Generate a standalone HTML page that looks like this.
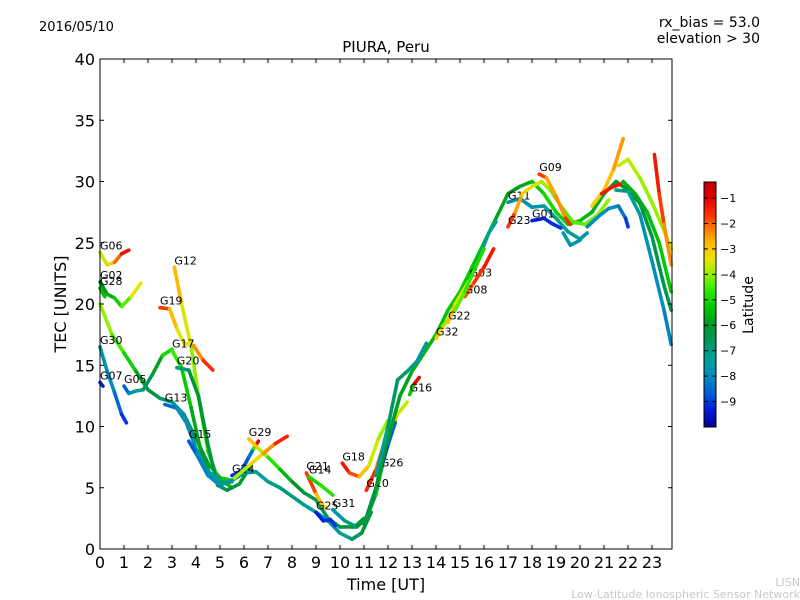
<!DOCTYPE html>
<html><head><meta charset="utf-8"><style>
body{margin:0;background:#fff;}
svg{display:block;font-family:"DejaVu Sans","Liberation Sans",sans-serif;}
</style></head><body>
<svg id="c" width="800" height="600">
<defs><linearGradient id="cmap" x1="0" y1="1" x2="0" y2="0"></linearGradient></defs>
<text x="39" y="31" font-size="13">2016/05/10</text>
<text x="760" y="27" font-size="14" text-anchor="end">rx_bias = 53.0</text>
<text x="760" y="43" font-size="14" text-anchor="end">elevation &gt; 30</text>
<text x="386" y="52" font-size="15" text-anchor="middle">PIURA, Peru</text>
<text x="800" y="586" font-size="11" fill="#c8c8c8" text-anchor="end">LISN</text>
<text x="800" y="598" font-size="11" fill="#c8c8c8" text-anchor="end">Low-Latitude Ionospheric Sensor Network</text>
<g id="plot"></g>
<g id="axes"></g>
<text x="386" y="590" font-size="16" text-anchor="middle">Time [UT]</text>
<text transform="translate(66,304) rotate(-90)" font-size="16" text-anchor="middle">TEC [UNITS]</text>
<rect x="704" y="182" width="12" height="245" fill="url(#cmap)" stroke="#000" stroke-width="1"/>
<g id="cbticks"></g>
<text transform="translate(753,305) rotate(-90)" font-size="14" text-anchor="middle">Latitude</text>
</svg>
<script>
const xTicks=[0,1,2,3,4,5,6,7,8,9,10,11,12,13,14,15,16,17,18,19,20,21,22,23];
const yTicks=[0,5,10,15,20,25,30,35,40];
const cbTicks=[-1,-2,-3,-4,-5,-6,-7,-8,-9];
// tracks: [time, tec, latitude]
const trackNames=["G06","G02","G28","","G30","G05","G12","G19","G17","G20","G13","G15","G24","G29","","G21","G14","G25","G31","G18","G10","G26","G16","","","G32","G22","G03","G08","G11","G23","G01","G09","","","","","","","","","","G07"];
const tracks=[
[[0,24.2,-3.8],[0.3,23.2,-3.5],[0.6,23.4,-2.7],[0.9,24.1,-1.5],[1.2,24.4,-1]],
[[0,21.8,-6],[0.3,20.8,-6],[0.6,20.5,-5.5],[0.9,19.8,-4.8],[1.3,20.6,-4],[1.7,21.7,-2.8]],
[[0,21.3,-5.2],[0.2,20.6,-5.5]],
[[0,20,-3.8],[0.5,17.5,-4.2],[1,16,-4.8],[1.5,14.5,-5.5],[2,13,-6.2],[2.5,12.3,-6.5],[3,12,-7],[3.5,11,-7.3],[4,9,-6.5],[4.5,7,-6],[5,5.8,-5.5],[5.5,5.6,-5.2]],
[[0,16.5,-7.5],[0.3,14.5,-7.8],[0.6,12.8,-8.2],[0.9,11,-8.8],[1.1,10.3,-9.3]],
[[1,13.3,-9],[1.2,12.7,-8.2],[1.5,12.9,-7.8],[1.8,13,-7],[2.2,14.3,-6.3],[2.6,15.8,-5.4],[3,16.3,-4.6]],
[[3.1,23,-2.3],[3.4,20,-3.2],[3.8,16.5,-3.8],[4.1,12.5,-4.3],[4.5,8,-4.8],[4.9,5.8,-5.3],[5.5,5,-5.6]],
[[2.5,19.7,-1.2],[2.9,19.6,-2.3],[3.2,18,-3.2],[3.5,16.8,-3.7],[3.9,16.6,-2.8],[4.3,15.4,-2],[4.7,14.6,-1.2]],
[[3,16.2,-4.2],[3.4,14.8,-5],[3.8,11.5,-5.5],[4.2,8,-6],[4.6,6,-6.3],[5,5.3,-6.3],[5.5,5.5,-6]],
[[3.2,14.8,-7.5],[3.7,14.6,-6.5],[4.1,12.5,-6],[4.5,8.5,-6.2],[4.9,5.2,-6.5],[5.3,4.8,-6.5],[5.8,5.3,-6.2],[6.3,6.8,-5.5]],
[[2.7,11.8,-9],[3.2,11.5,-8],[3.6,10.3,-8],[4,8.2,-7.6],[4.4,6.5,-7.5],[5,5.6,-7.5]],
[[3.7,8.8,-9.2],[4,7.8,-8.2],[4.5,6,-8],[5,5.2,-7.8],[5.5,5.6,-7.6],[6,6.2,-7.6],[6.5,6.3,-7.5],[7,5.5,-7.2],[7.5,5,-7],[8,4.3,-7],[8.5,3.6,-7.2],[9,3,-7.5],[9.5,2.3,-7.8],[10,1.3,-7.5],[10.5,0.8,-7],[10.9,1.3,-6.5],[11.3,3,-6]],
[[5.5,6,-9.3],[5.9,6.4,-9],[6.2,7.5,-8.5],[6.4,8.2,-8.2],[6.5,8.5,-1.2],[6.6,8.8,-1]],
[[6.2,9,-2.3],[6.6,8.2,-3.3],[7,7.5,-4.3],[7.5,6.5,-5.2],[8,5.5,-5.8],[8.5,4.6,-6.2],[9,4,-6.5],[9.5,2.5,-6.8],[10,1.8,-6.5],[10.6,1.8,-6],[11,2.5,-5.8]],
[[5.6,5.8,-4],[6.2,6.8,-3.6],[6.8,7.8,-2.8],[7.3,8.6,-2],[7.8,9.2,-1]],
[[8.6,6.2,-1.2],[9,4.5,-2.3],[9.3,3.5,-3.3],[9.4,3.4,-3]],
[[8.7,5.9,-5],[9.2,5.2,-5],[9.7,4.4,-4.5]],
[[9,3,-9.3],[9.3,2.3,-9.3],[9.6,2.4,-9],[9.8,1.9,-9.2]],
[[9.7,3.2,-8],[10.2,2.3,-7.5],[10.7,1.8,-6.5],[11.1,2.5,-6],[11.5,4.5,-5.5],[11.9,8,-5],[12.3,10.5,-5]],
[[10.1,7,-1.2],[10.4,6.2,-1.5],[10.8,5.9,-2.3],[11.2,6.8,-3.3],[11.6,9,-3.8],[12,10.5,-4.2]],
[[11.1,4.8,-1.2],[11.5,6.5,-1.8],[11.9,9,-2.4],[12.4,11,-3.3],[12.8,12,-4]],
[[11.7,6.5,-9.3],[12,8.5,-8.8],[12.3,10.3,-8.5]],
[[12.9,12.6,-9.2],[13.1,13.5,-1.2],[13.3,14,-1]],
[[11,2,-6.5],[11.5,5,-6.2],[12,9,-6],[12.5,12.5,-5.8],[13,14.5,-5.8],[13.5,16,-5.5],[14,17.5,-5.5],[14.5,19.5,-5.3],[15,21,-5.2],[15.5,23,-5.2],[16,25,-5.3],[16.5,27,-5.6],[17,29,-6],[17.5,29.6,-6],[18,30,-5.5],[18.5,29,-5],[19,27.5,-5],[19.5,26.5,-5.2],[20,26.8,-5.5],[20.5,27.5,-5.5],[21,29,-5.8],[21.5,30,-6],[22,29.3,-6.2],[22.5,28.2,-6.3],[23,25.5,-6.5],[23.5,21.5,-6.5],[23.8,19.5,-6.5]],
[[11.5,6,-7.5],[12,10,-7],[12.4,13.8,-6.5],[12.8,14.5,-7],[13.2,15.3,-7.3],[13.6,16.8,-7.8]],
[[14,17.2,-2.3],[14.3,18.2,-3.6],[14.6,19,-4.3],[15,20.5,-5],[15.5,22.5,-5.5]],
[[14.5,18.5,-2.3],[14.8,20,-3.3],[15.2,21.3,-3.8],[15.5,22.3,-3.3]],
[[15.4,22,-6.5],[15.8,23.8,-7],[16.2,25.8,-7.3],[16.5,26.7,-7.5]],
[[15.2,20.6,-2],[15.6,21.8,-1.8],[16,23,-1.5],[16.4,24.5,-1.2]],
[[17,28.3,-7.8],[17.5,28.6,-7.8],[18,27.9,-7.7],[18.5,28,-7.5],[19,27,-7.3],[19.5,25.9,-7.2],[20,25.3,-7.5],[20.3,25.8,-8]],
[[17,26.3,-1.2],[17.3,27.5,-2.2],[17.6,29,-3],[18,29.6,-3.4],[18.4,30,-3.7],[18.8,29.2,-4.1],[19.2,28,-4.4],[19.7,26.7,-4.4],[20.2,26.5,-4.4],[20.7,27.2,-4.1],[21.2,28.5,-3.9]],
[[18,26.8,-9.3],[18.5,27,-9.3],[18.8,26.6,-9],[19.2,26.2,-9.2]],
[[18.3,30.6,-1.2],[18.6,30.3,-2.3],[19,28.8,-2.8],[19.4,27,-2],[19.6,26.5,-1.2]],
[[20.5,28,-3.2],[21,29.3,-3],[21.4,31,-2.7],[21.8,33.5,-2.3]],
[[20.9,29,-1.2],[21.3,29.5,-1.5],[21.7,29.8,-1.2]],
[[20.3,26.3,-8],[20.8,27.2,-8],[21.2,27.8,-7.8],[21.6,28,-8],[21.9,27,-8.8],[22,26.3,-9.2]],
[[21.5,29.3,-7],[22,29.2,-7.2],[22.5,27.3,-7.5],[23,23.5,-7.8],[23.5,19.5,-8],[23.8,16.7,-8.2]],
[[21.8,30,-5.5],[22.3,29,-5.8],[22.8,27.5,-5.5],[23.3,25,-5.3],[23.8,21,-5.2]],
[[21.6,31.3,-3.6],[22,31.8,-3.6],[22.5,30.3,-3.9],[23,28.3,-4.1],[23.5,26,-3.9],[23.8,24.5,-3.6]],
[[23.1,32.2,-1.2],[23.3,29,-1.5],[23.5,26.5,-2],[23.8,23.2,-2.8]],
[[19.3,25.8,-7.5],[19.6,24.8,-7.5],[20,25.2,-7.8]],
[[14.8,19.5,-4.2],[15.2,21,-4.5],[15.6,22.8,-4.8],[16,24.5,-5]],
[[0,13.6,-9.3],[0.12,13.3,-9.2]]
];
const cmLat=[-10,-9.3,-8.6,-8,-7.3,-6.6,-6,-5.3,-4.6,-4,-3.4,-2.8,-2.2,-1.7,-1,-0.37];
const cmCol=[[0,0,150],[0,30,220],[0,100,210],[0,140,190],[0,160,150],[0,150,90],[0,150,40],[0,200,0],[50,235,0],[150,240,0],[230,230,0],[255,190,0],[255,120,0],[255,50,0],[225,0,0],[190,0,0]];
const X0=100,X1=672,Y0=549,Y1=59;
const xs=t=>X0+t*24.0;
const ys=v=>Y0-v*(Y0-Y1)/40;
function cm(l){
  if(l<=cmLat[0])return cmCol[0];
  for(let i=0;i<cmLat.length-1;i++){
    if(l<=cmLat[i+1]){const f=(l-cmLat[i])/(cmLat[i+1]-cmLat[i]);return cmCol[i].map((c,k)=>Math.round(c+f*(cmCol[i+1][k]-c)));}
  }
  return cmCol[cmCol.length-1];
}
const rgb=c=>`rgb(${c[0]},${c[1]},${c[2]})`;
const NS="http://www.w3.org/2000/svg";
const grad=document.getElementById('cmap');
cmLat.forEach((l,i)=>{const s=document.createElementNS(NS,'stop');s.setAttribute('offset',((l+10)/9.63).toFixed(3));s.setAttribute('stop-color',rgb(cmCol[i]));grad.appendChild(s);});
const plot=document.getElementById('plot'),axes=document.getElementById('axes'),cbt=document.getElementById('cbticks');
function mk(tag,attrs,parent){const e=document.createElementNS(NS,tag);for(const k in attrs)e.setAttribute(k,attrs[k]);parent.appendChild(e);return e;}
tracks.forEach((tr,i)=>{
  const g=mk('g',{},plot);
  
  
  for(let k=0;k<tr.length-1;k++){
    const a=tr[k],b=tr[k+1];
    const l=mk('line',{x1:xs(a[0]),y1:ys(a[1]),x2:xs(b[0]),y2:ys(b[1]),stroke:rgb(cm((a[2]+b[2])/2)),'stroke-width':3.6,'stroke-linecap':'round'},g);
    
    
  }
  if(trackNames[i]){
    const t=mk('text',{x:xs(tr[0][0]),y:ys(tr[0][1])-3,'font-size':11},plot);
    t.textContent=trackNames[i];
    
    
  }
});
const fr=mk('rect',{x:X0,y:Y1,width:X1-X0,height:Y0-Y1,fill:'none',stroke:'#000','stroke-width':1},axes);


xTicks.forEach(t=>{
  const x=xs(t);
  mk('line',{x1:x,y1:Y0,x2:x,y2:Y0-4,stroke:'#000'},axes);
  mk('line',{x1:x,y1:Y1,x2:x,y2:Y1+4,stroke:'#000'},axes);
  const tx=mk('text',{x:x,y:Y0+19,'font-size':16,'text-anchor':'middle'},axes);
  tx.textContent=t;
  
  
});
yTicks.forEach(v=>{
  const y=ys(v);
  mk('line',{x1:X0,y1:y,x2:X0+4,y2:y,stroke:'#000'},axes);
  mk('line',{x1:X1,y1:y,x2:X1-4,y2:y,stroke:'#000'},axes);
  const tx=mk('text',{x:X0-5,y:y+6,'font-size':16,'text-anchor':'end'},axes);
  tx.textContent=v;
  
  
});
cbTicks.forEach(v=>{
  const y=182+(-0.37-v)/(9.63)*245;
  mk('line',{x1:716,y1:y,x2:712,y2:y,stroke:'#000'},cbt);
  mk('line',{x1:704,y1:y,x2:708,y2:y,stroke:'#000'},cbt);
  const tx=mk('text',{x:720,y:y+4,'font-size':11},cbt);
  tx.textContent='\u2212'+(-v);
  
  
});
</script>
</body></html>
